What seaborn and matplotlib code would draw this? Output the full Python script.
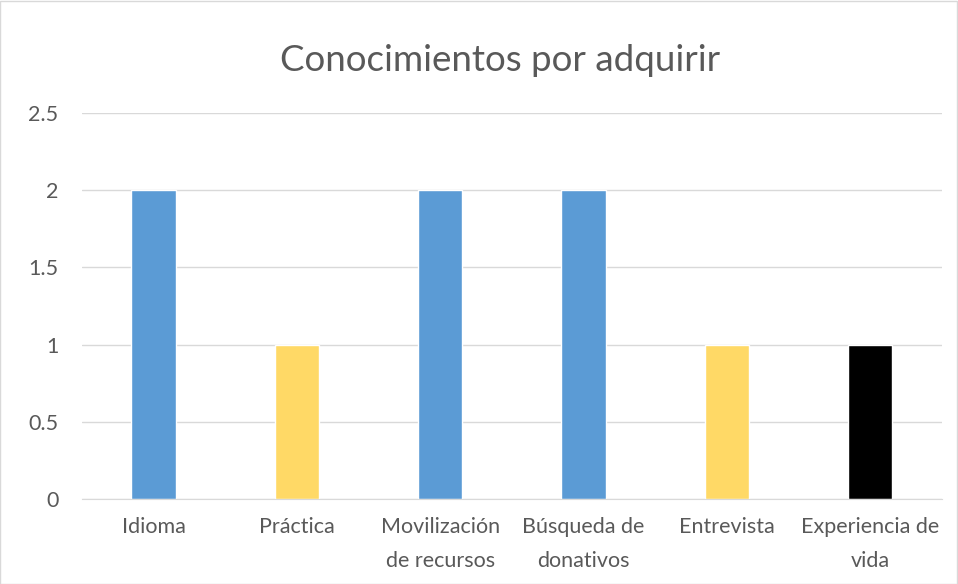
import matplotlib
matplotlib.use("Agg")
import matplotlib.pyplot as plt
import seaborn as sns
import pandas as pd
from matplotlib.patches import Rectangle

categories = ["Idioma", "Práctica", "Movilización\nde recursos", "Búsqueda de\ndonativos", "Entrevista", "Experiencia de\nvida"]
values = [2, 1, 2, 2, 1, 1]
colors = ["#5B9BD5", "#FFD966", "#5B9BD5", "#5B9BD5", "#FFD966", "#000000"]
yticks = [0, 0.5, 1, 1.5, 2, 2.5]
title = "Conocimientos por adquirir"

sns.set_style("white")
plt.rcParams['font.family'] = ['Lato', 'DejaVu Sans']

df = pd.DataFrame({"cat": categories, "val": values})

fig = plt.figure(figsize=(9.58, 5.84), dpi=100)
ax = fig.add_axes([0.0856, 0.1455, 0.983 - 0.0856, 0.8065 - 0.1455])
sns.barplot(data=df, x="cat", y="val", hue="cat", palette=colors, legend=False,
            width=0.31, ax=ax, saturation=1)

ax.set_ylim(0, 2.5)
ax.set_yticks(yticks)
ax.set_yticklabels(["0", "0.5", "1", "1.5", "2", "2.5"])
ax.yaxis.grid(True, color="#D9D9D9", linewidth=1)
ax.set_axisbelow(True)
for s in ["top", "right", "left"]:
    ax.spines[s].set_visible(False)
ax.spines["bottom"].set_color("#D9D9D9")
ax.set_xlabel("")
ax.set_ylabel("")
ax.tick_params(axis="both", length=0, labelsize=15.5, labelcolor="#595959")
ax.tick_params(axis="x", pad=13)
ax.tick_params(axis="y", pad=17)
for lbl in ax.get_xticklabels():
    lbl.set_linespacing(1.85)

fig.text(0.5223, 0.897, title, ha="center", va="center", fontsize=26.5, color="#595959")
fig.patches.append(Rectangle((0.0005, 0.0005), 0.998, 0.998, transform=fig.transFigure,
                             fill=False, edgecolor="#D9D9D9", linewidth=1))

fig.savefig("out.png", dpi=100)
